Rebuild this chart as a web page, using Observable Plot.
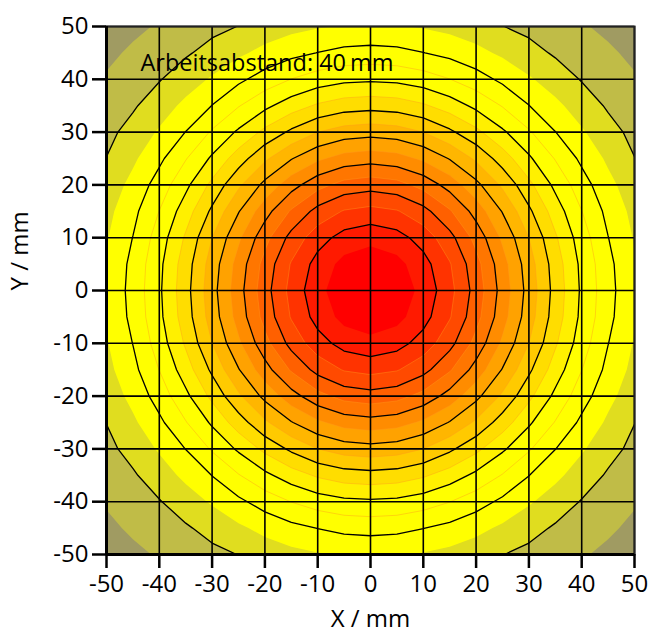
<!DOCTYPE html>
<html>
<head>
<meta charset="utf-8">
<script src="https://cdn.jsdelivr.net/npm/d3@7"></script>
<script src="https://cdn.jsdelivr.net/npm/@observablehq/plot@0.6"></script>
<style>
  html, body { margin: 0; padding: 0; background: #fff; }
  #chart svg { display: block; }
</style>
</head>
<body>
<div id="chart"></div>
<script>
// Measurement grid positions (mm): columns left→right, rows top→bottom.
const gridX = [-50, -45, -40, -35, -30, -25, -20, -15, -10, -5, 0, 5, 10, 15, 20, 25, 30, 35, 40, 45, 50];
const gridY = [50, 45, 40, 35, 30, 25, 20, 15, 10, 5, 0, -5, -10, -15, -20, -25, -30, -35, -40, -45, -50];

// Relative irradiance (%) at each grid node, one row per Y position.
const intensity = [
  [12.1, 13.9, 15.5, 17.2, 18.7, 20.1, 22.0, 23.5, 24.6, 25.3, 25.6, 25.3, 24.6, 23.5, 22.0, 20.1, 18.7, 17.2, 15.5, 13.9, 12.1],
  [13.9, 15.8, 17.7, 19.4, 21.7, 24.1, 26.5, 28.6, 30.1, 31.4, 31.8, 31.4, 30.1, 28.6, 26.5, 24.1, 21.7, 19.4, 17.7, 15.8, 13.9],
  [15.5, 17.7, 19.7, 22.6, 25.6, 28.9, 32.2, 35.1, 37.4, 38.8, 39.2, 38.8, 37.4, 35.1, 32.2, 28.9, 25.6, 22.6, 19.7, 17.7, 15.5],
  [17.2, 19.4, 22.6, 26.2, 30.1, 34.7, 38.8, 42.6, 45.7, 47.6, 48.2, 47.6, 45.7, 42.6, 38.8, 34.7, 30.1, 26.2, 22.6, 19.4, 17.2],
  [18.7, 21.7, 25.6, 30.1, 35.6, 40.8, 46.3, 51.0, 55.0, 57.3, 58.1, 57.3, 55.0, 51.0, 46.3, 40.8, 35.6, 30.1, 25.6, 21.7, 18.7],
  [20.1, 24.1, 28.9, 34.7, 40.8, 47.6, 54.1, 59.7, 64.1, 67.0, 68.0, 67.0, 64.1, 59.7, 54.1, 47.6, 40.8, 34.7, 28.9, 24.1, 20.1],
  [22.0, 26.5, 32.2, 38.8, 46.3, 54.1, 61.4, 68.0, 73.3, 76.8, 78.0, 76.8, 73.3, 68.0, 61.4, 54.1, 46.3, 38.8, 32.2, 26.5, 22.0],
  [23.5, 28.6, 35.1, 42.6, 51.0, 59.7, 68.0, 75.6, 81.7, 85.4, 86.6, 85.4, 81.7, 75.6, 68.0, 59.7, 51.0, 42.6, 35.1, 28.6, 23.5],
  [24.6, 30.1, 37.4, 45.7, 55.0, 64.1, 73.3, 81.7, 87.9, 91.9, 93.5, 91.9, 87.9, 81.7, 73.3, 64.1, 55.0, 45.7, 37.4, 30.1, 24.6],
  [25.3, 31.4, 38.8, 47.6, 57.3, 67.0, 76.8, 85.4, 91.9, 96.6, 98.2, 96.6, 91.9, 85.4, 76.8, 67.0, 57.3, 47.6, 38.8, 31.4, 25.3],
  [25.6, 31.8, 39.2, 48.2, 58.1, 68.0, 78.0, 86.6, 93.5, 98.2, 100.0, 98.2, 93.5, 86.6, 78.0, 68.0, 58.1, 48.2, 39.2, 31.8, 25.6],
  [25.3, 31.4, 38.8, 47.6, 57.3, 67.0, 76.8, 85.4, 91.9, 96.6, 98.2, 96.6, 91.9, 85.4, 76.8, 67.0, 57.3, 47.6, 38.8, 31.4, 25.3],
  [24.6, 30.1, 37.4, 45.7, 55.0, 64.1, 73.3, 81.7, 87.9, 91.9, 93.5, 91.9, 87.9, 81.7, 73.3, 64.1, 55.0, 45.7, 37.4, 30.1, 24.6],
  [23.5, 28.6, 35.1, 42.6, 51.0, 59.7, 68.0, 75.6, 81.7, 85.4, 86.6, 85.4, 81.7, 75.6, 68.0, 59.7, 51.0, 42.6, 35.1, 28.6, 23.5],
  [22.0, 26.5, 32.2, 38.8, 46.3, 54.1, 61.4, 68.0, 73.3, 76.8, 78.0, 76.8, 73.3, 68.0, 61.4, 54.1, 46.3, 38.8, 32.2, 26.5, 22.0],
  [20.1, 24.1, 28.9, 34.7, 40.8, 47.6, 54.1, 59.7, 64.1, 67.0, 68.0, 67.0, 64.1, 59.7, 54.1, 47.6, 40.8, 34.7, 28.9, 24.1, 20.1],
  [18.7, 21.7, 25.6, 30.1, 35.6, 40.8, 46.3, 51.0, 55.0, 57.3, 58.1, 57.3, 55.0, 51.0, 46.3, 40.8, 35.6, 30.1, 25.6, 21.7, 18.7],
  [17.2, 19.4, 22.6, 26.2, 30.1, 34.7, 38.8, 42.6, 45.7, 47.6, 48.2, 47.6, 45.7, 42.6, 38.8, 34.7, 30.1, 26.2, 22.6, 19.4, 17.2],
  [15.5, 17.7, 19.7, 22.6, 25.6, 28.9, 32.2, 35.1, 37.4, 38.8, 39.2, 38.8, 37.4, 35.1, 32.2, 28.9, 25.6, 22.6, 19.7, 17.7, 15.5],
  [13.9, 15.8, 17.7, 19.4, 21.7, 24.1, 26.5, 28.6, 30.1, 31.4, 31.8, 31.4, 30.1, 28.6, 26.5, 24.1, 21.7, 19.4, 17.7, 15.8, 13.9],
  [12.1, 13.9, 15.5, 17.2, 18.7, 20.1, 22.0, 23.5, 24.6, 25.3, 25.6, 25.3, 24.6, 23.5, 22.0, 20.1, 18.7, 17.2, 15.5, 13.9, 12.1]
];

// Filled bands: lower threshold of each band and its colour.
const fillLevels = [0, 15, 20, 25, 30, 35, 40, 45, 50, 55, 60, 65, 70, 75, 80, 85, 90, 95];
const fillColors = [
  "#a09b62", "#c0bc47", "#e0dd1f", "#ffff00", "#ffff00", "#ffff00", "#fff000", "#ffdd00",
  "#ffca00", "#ffb600", "#ffa200", "#ff8c00", "#ff7600", "#ff6000", "#ff4a00", "#ff3300",
  "#ff1a00", "#ff0000"
];

// Black isolines and the faint band seams between them.
const lineLevels = [90, 80, 70, 60, 50, 40, 30, 20];
const seamLevels = [85, 75, 65, 55, 45, 35];

// Axes.
const axisTicks = [-50, -40, -30, -20, -10, 0, 10, 20, 30, 40, 50];
const xTitle = "X / mm";
const yTitle = "Y / mm";
const annotation = "Arbeitsabstand: 40\u2009mm";

const values = intensity.flat();
const step = gridX[1] - gridX[0];
const raster = {
  width: gridX.length,
  height: gridY.length,
  x1: gridX[0] - step / 2,
  x2: gridX[gridX.length - 1] + step / 2,
  y1: gridY[0] + step / 2,
  y2: gridY[gridY.length - 1] - step / 2,
  clip: true
};

// One filled region (value ≥ level) per band, painted from the lowest level up.
const bandMarks = fillLevels.map((level, i) =>
  Plot.contour(values, {...raster, thresholds: [level], fill: fillColors[i], stroke: "none"})
);

const font = "'Open Sans', 'DejaVu Sans', sans-serif";

const chart = Plot.plot({
  width: 661,
  height: 635,
  marginLeft: 106,
  marginRight: 27,
  marginTop: 26,
  marginBottom: 81,
  style: {fontFamily: font, fontSize: "24px", color: "#000", background: "#fff", overflow: "visible"},
  x: {domain: [axisTicks[0], axisTicks[axisTicks.length - 1]]},
  y: {domain: [axisTicks[0], axisTicks[axisTicks.length - 1]]},
  marks: [
    ...bandMarks,
    Plot.contour(values, {...raster, thresholds: seamLevels, fill: "none", stroke: "#ff9a1a", strokeWidth: 0.6, strokeOpacity: 0.7}),
    Plot.contour(values, {...raster, thresholds: lineLevels, fill: "none", stroke: "#000", strokeWidth: 1.3}),
    Plot.ruleX(axisTicks, {stroke: "#000", strokeWidth: 1.6}),
    Plot.ruleY(axisTicks, {stroke: "#000", strokeWidth: 1.6}),
    Plot.frame({stroke: "#222", strokeWidth: 2}),
    Plot.ruleX([axisTicks[0]], {stroke: "#000", strokeWidth: 3}),
    Plot.ruleY([axisTicks[0]], {stroke: "#000", strokeWidth: 3}),
    Plot.axisX({ticks: axisTicks, tickSize: 14, tickPadding: 6, tickFormat: d => String(d), fontSize: 24, strokeWidth: 2.5, label: null}),
    Plot.axisY({ticks: axisTicks, tickSize: 14, tickPadding: 4, tickFormat: d => String(d), fontSize: 24, strokeWidth: 2.5, label: null}),
    Plot.text([annotation], {text: d => d, frameAnchor: "top-left", dx: 34, dy: 37, textAnchor: "start", lineAnchor: "middle", fontSize: 23.5, fill: "#000"}),
    Plot.text([xTitle], {text: d => d, frameAnchor: "bottom", dy: 65, lineAnchor: "middle", fontSize: 24, fill: "#000"}),
    Plot.text([yTitle], {text: d => d, frameAnchor: "left", dx: -86, rotate: -90, lineAnchor: "middle", fontSize: 24, fill: "#000"})
  ]
});

document.getElementById("chart").appendChild(chart);
</script>
</body>
</html>
